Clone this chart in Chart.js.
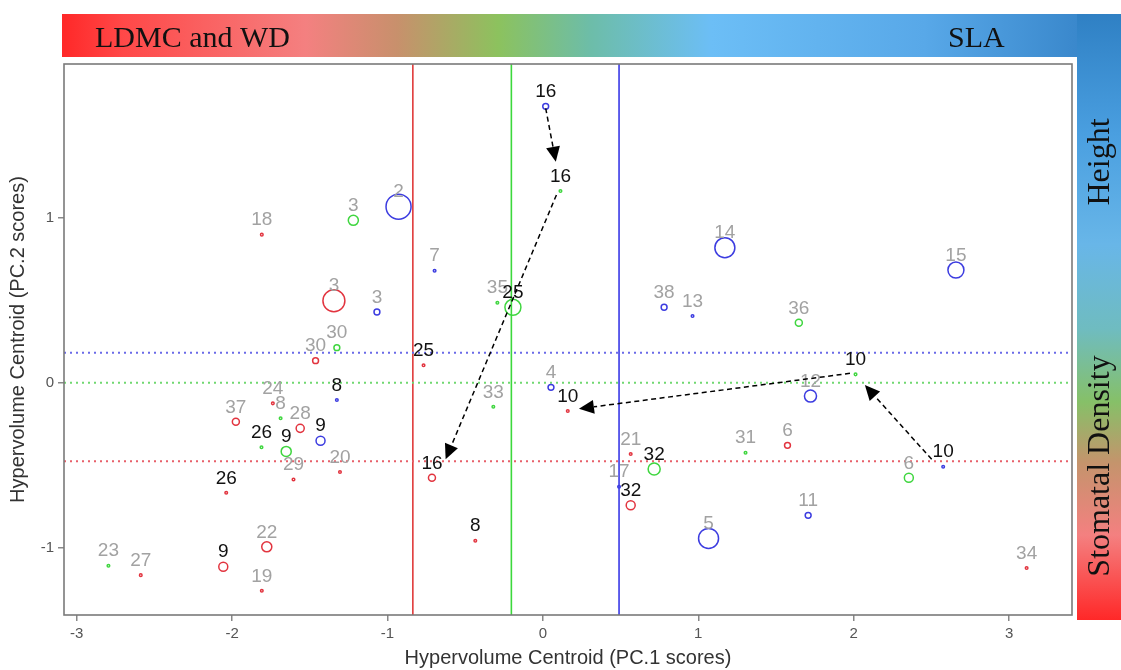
<!DOCTYPE html>
<html>
<head>
<meta charset="utf-8">
<script src="https://cdn.jsdelivr.net/npm/chart.js@4.4.1/dist/chart.umd.min.js"></script>
<style>
  html, body { margin: 0; padding: 0; background: #fff; }
  #wrap { width: 1121px; height: 670px; }
</style>
</head>
<body>
<div id="wrap"><canvas id="hvChart" width="1121" height="670"></canvas></div>
<script>
// species numbers, hypervolume centroids (PC1, PC2) and relative hypervolume size per trait group
const redIds  = [18, 3, 30, 24, 37, 28, 20, 29, 26, 22, 9, 27, 19, 25, 16, 8, 10, 21, 32, 6, 34];
const redX    = [-1.809, -1.345, -1.463, -1.738, -1.976, -1.562, -1.306, -1.605, -2.038, -1.777, -2.057, -2.588, -1.809, -0.768, -0.714, -0.435, 0.160, 0.565, 0.565, 1.574, 3.113];
const redY    = [0.899, 0.498, 0.134, -0.125, -0.237, -0.277, -0.542, -0.587, -0.668, -0.996, -1.117, -1.168, -1.263, 0.106, -0.577, -0.959, -0.172, -0.433, -0.744, -0.380, -1.125];
const redVol  = [0, 0.88, 0.15, 0, 0.2, 0.25, 0, 0, 0, 0.34, 0.29, 0, 0, 0, 0.2, 0, 0, 0, 0.29, 0.15, 0];

const greenIds = [3, 30, 8, 26, 9, 23, 35, 25, 33, 16, 32, 31, 36, 10, 6];
const greenX   = [-1.220, -1.326, -1.688, -1.811, -1.652, -2.796, -0.293, -0.193, -0.319, 0.113, 0.716, 1.304, 1.647, 2.012, 2.355];
const greenY   = [0.986, 0.213, -0.216, -0.392, -0.417, -1.111, 0.486, 0.458, -0.146, 1.164, -0.524, -0.425, 0.364, 0.051, -0.577];
const greenVol = [0.34, 0.15, 0, 0, 0.34, 0, 0, 0.61, 0, 0, 0.43, 0, 0.2, 0, 0.29];

const blueIds = [2, 7, 3, 8, 9, 16, 4, 17, 38, 13, 14, 12, 11, 5, 15, 10];
const blueX   = [-0.929, -0.697, -1.068, -1.326, -1.431, 0.018, 0.052, 0.490, 0.780, 0.963, 1.171, 1.722, 1.707, 1.066, 2.658, 2.576];
const blueY   = [1.069, 0.680, 0.429, -0.105, -0.352, 1.678, -0.028, -0.631, 0.458, 0.405, 0.820, -0.081, -0.805, -0.945, 0.684, -0.510];
const blueVol = [1.02, 0, 0.15, 0, 0.29, 0.15, 0.15, 0, 0.15, 0, 0.79, 0.43, 0.15, 0.79, 0.61, 0];

// species whose labels are printed in black
const redFocus   = [26, 9, 25, 16, 8, 10, 32];
const greenFocus = [26, 9, 25, 16, 32, 10];
const blueFocus  = [8, 9, 16, 10];

// group means: vertical lines on PC1, dotted lines on PC2 (red, green, blue)
const meanPC1 = [-0.837, -0.203, 0.490];
const meanPC2 = [-0.477, 0.000, 0.182];

// shifts between groups: [fromX, fromY, toX, toY]
const shifts = [
  [0.018, 1.666, 0.083, 1.342],
  [0.087, 1.140, -0.626, -0.465],
  [1.976, 0.057, 0.232, -0.158],
  [2.502, -0.465, 2.072, -0.014]
];

const xTicks = [-3, -2, -1, 0, 1, 2, 3];
const yTicks = [-1, 0, 1];

const RED = '#e2343f', GREEN = '#3fd63f', BLUE = '#3c3ce0';
const LINE_COLORS = ['#e03a3a', '#3cd83c', '#3a3ae6'];
const DOT_COLORS  = ['#e8606a', '#70d870', '#6a6ae8'];
const SANS = '"Liberation Sans", Arial, sans-serif';
const SERIF = '"Liberation Serif", "DejaVu Serif", serif';

function toPoints(ids, xs, ys, vols, focus) {
  return ids.map((id, i) => ({ x: xs[i], y: ys[i], id: id, vol: vols[i], focus: focus.includes(id) }));
}

function makeSet(label, color, pts) {
  return {
    label: label,
    data: pts,
    borderColor: color,
    backgroundColor: 'rgba(0,0,0,0)',
    borderWidth: 1.5,
    pointRadius: ctx => 1.3 + 11 * ctx.raw.vol,
    pointHoverRadius: ctx => 1.3 + 11 * ctx.raw.vol,
    showLine: false
  };
}

function drawArrow(ctx, x1, y1, x2, y2) {
  const ang = Math.atan2(y2 - y1, x2 - x1);
  const hl = 15, hw = 7;
  const c = Math.cos(ang), s = Math.sin(ang);
  const bx = x2 - hl * c, by = y2 - hl * s;
  ctx.setLineDash([5, 3.5]);
  ctx.beginPath();
  ctx.moveTo(x1, y1);
  ctx.lineTo(bx, by);
  ctx.stroke();
  ctx.setLineDash([]);
  ctx.beginPath();
  ctx.moveTo(x2, y2);
  ctx.lineTo(bx + hw * s, by - hw * c);
  ctx.lineTo(bx - hw * s, by + hw * c);
  ctx.closePath();
  ctx.fill();
}

const decor = {
  id: 'decor',
  beforeDraw(chart) {
    const ctx = chart.ctx;
    ctx.save();
    ctx.fillStyle = '#fff';
    ctx.fillRect(0, 0, chart.width, chart.height);

    // trait band across the top
    let g = ctx.createLinearGradient(62, 0, 1077, 0);
    g.addColorStop(0.00, '#ff2828');
    g.addColorStop(0.06, '#ff4848');
    g.addColorStop(0.24, '#f48080');
    g.addColorStop(0.33, '#c8906c');
    g.addColorStop(0.43, '#8cc25e');
    g.addColorStop(0.52, '#6dbda8');
    g.addColorStop(0.64, '#6cbef6');
    g.addColorStop(0.85, '#58a8e8');
    g.addColorStop(1.00, '#3a88cc');
    ctx.fillStyle = g;
    ctx.fillRect(62, 14, 1015, 43);

    // trait band down the right side
    g = ctx.createLinearGradient(0, 14, 0, 620);
    g.addColorStop(0.00, '#2f80c4');
    g.addColorStop(0.20, '#4a9fe0');
    g.addColorStop(0.38, '#68b6e8');
    g.addColorStop(0.52, '#6fbcc0');
    g.addColorStop(0.64, '#86c068');
    g.addColorStop(0.74, '#c4946c');
    g.addColorStop(0.86, '#f48080');
    g.addColorStop(1.00, '#ff2828');
    ctx.fillStyle = g;
    ctx.fillRect(1077, 14, 44, 606);

    ctx.fillStyle = '#111';
    ctx.font = '30px ' + SERIF;
    ctx.textBaseline = 'alphabetic';
    ctx.textAlign = 'left';
    ctx.fillText('LDMC and WD', 95, 47);
    ctx.fillText('SLA', 948, 47);

    ctx.font = '32px ' + SERIF;
    ctx.textAlign = 'center';
    ctx.textBaseline = 'middle';
    ctx.translate(1101, 0);
    ctx.rotate(-Math.PI / 2);
    ctx.fillText('Height', -162, 0);
    ctx.fillText('Stomatal Density', -466, 0);
    ctx.restore();
  },
  beforeDatasetsDraw(chart) {
    const { ctx, chartArea: a, scales: { x, y } } = chart;
    ctx.save();
    ctx.lineWidth = 1.6;
    meanPC1.forEach((v, i) => {
      const px = x.getPixelForValue(v);
      ctx.strokeStyle = LINE_COLORS[i];
      ctx.beginPath();
      ctx.moveTo(px, a.top);
      ctx.lineTo(px, a.bottom);
      ctx.stroke();
    });
    ctx.lineWidth = 2;
    ctx.setLineDash([2, 4]);
    meanPC2.forEach((v, i) => {
      const py = y.getPixelForValue(v);
      ctx.strokeStyle = DOT_COLORS[i];
      ctx.beginPath();
      ctx.moveTo(a.left, py);
      ctx.lineTo(a.right, py);
      ctx.stroke();
    });
    ctx.restore();
  },
  afterDatasetsDraw(chart) {
    const { ctx, chartArea: a, scales: { x, y } } = chart;
    ctx.save();
    // species labels above each centroid
    ctx.font = '19px ' + SANS;
    ctx.textAlign = 'center';
    ctx.textBaseline = 'middle';
    chart.data.datasets.forEach(ds => {
      ds.data.forEach(p => {
        ctx.fillStyle = p.focus ? '#111' : '#a2a2a2';
        ctx.fillText(String(p.id), x.getPixelForValue(p.x), y.getPixelForValue(p.y) - 14.5);
      });
    });

    // shift arrows
    ctx.strokeStyle = '#000';
    ctx.fillStyle = '#000';
    ctx.lineWidth = 1.5;
    shifts.forEach(s => {
      drawArrow(ctx, x.getPixelForValue(s[0]), y.getPixelForValue(s[1]),
                     x.getPixelForValue(s[2]), y.getPixelForValue(s[3]));
    });

    // plot frame
    ctx.strokeStyle = '#7a7a7a';
    ctx.lineWidth = 1.6;
    ctx.strokeRect(a.left, a.top, a.right - a.left, a.bottom - a.top);
    ctx.restore();
  }
};

new Chart(document.getElementById('hvChart').getContext('2d'), {
  type: 'scatter',
  data: {
    datasets: [
      makeSet('LDMC and WD', RED, toPoints(redIds, redX, redY, redVol, redFocus)),
      makeSet('Stomatal Density', GREEN, toPoints(greenIds, greenX, greenY, greenVol, greenFocus)),
      makeSet('SLA', BLUE, toPoints(blueIds, blueX, blueY, blueVol, blueFocus))
    ]
  },
  options: {
    responsive: false,
    devicePixelRatio: 1,
    animation: false,
    layout: { padding: { left: 0, top: 64, right: 49, bottom: 0 } },
    plugins: { legend: { display: false }, tooltip: { enabled: false } },
    scales: {
      x: {
        type: 'linear',
        min: -3.082,
        max: 3.405,
        afterFit: s => { s.height = 55; },
        afterBuildTicks: s => { s.ticks = xTicks.map(v => ({ value: v })); },
        ticks: { color: '#555', font: { size: 15, family: SANS }, padding: 4, maxRotation: 0 },
        grid: { drawOnChartArea: false, drawTicks: true, tickLength: 6, color: '#888', lineWidth: 1.5 },
        border: { display: false },
        title: {
          display: true,
          text: 'Hypervolume Centroid (PC.1 scores)',
          color: '#333',
          font: { size: 20, family: SANS },
          padding: { top: 0, bottom: 0 }
        }
      },
      y: {
        type: 'linear',
        min: -1.41,
        max: 1.935,
        afterFit: s => { s.width = 64; },
        afterBuildTicks: s => { s.ticks = yTicks.map(v => ({ value: v })); },
        ticks: { color: '#555', font: { size: 15, family: SANS }, padding: 4 },
        grid: { drawOnChartArea: false, drawTicks: true, tickLength: 6, color: '#888', lineWidth: 1.5 },
        border: { display: false },
        title: {
          display: true,
          text: 'Hypervolume Centroid (PC.2 scores)',
          color: '#333',
          font: { size: 20, family: SANS },
          padding: { top: 6, bottom: 0 }
        }
      }
    }
  },
  plugins: [decor]
});
</script>
</body>
</html>
